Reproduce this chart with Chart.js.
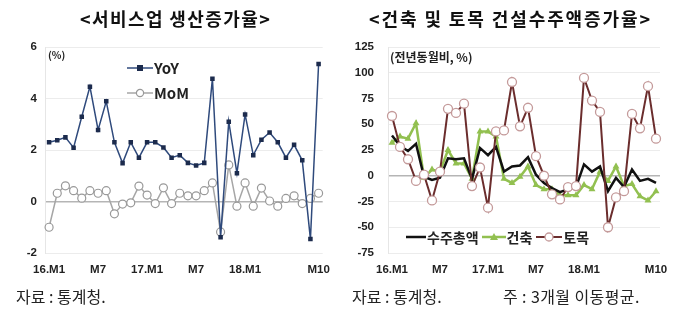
<!DOCTYPE html>
<html>
<head>
<meta charset="utf-8">
<script src="https://cdn.jsdelivr.net/npm/chart.js@4.4.1/dist/chart.umd.min.js"></script>
<style>
body{margin:0;width:680px;height:324px;background:#fff;position:relative;overflow:hidden;font-family:"Noto Sans CJK KR","Noto Sans",sans-serif;color:#222}
.cv{position:absolute;top:0;width:340px;height:324px}
.t{position:absolute;white-space:nowrap}
.title{top:5px;font-size:18px;font-weight:700;color:#111}
.foot{top:284px;font-size:16px;color:#222}
.lg{font-weight:700;color:#222;display:flex;align-items:center}
.lg svg{margin-right:1px}
</style>
</head>
<body>
<div class="cv" style="left:0"><canvas id="c1" width="340" height="324"></canvas></div>
<div class="cv" style="left:340px"><canvas id="c2" width="340" height="324"></canvas></div>

<div class="t title" style="left:80px;letter-spacing:1.4px">&lt;서비스업 생산증가율&gt;</div>
<div class="t title" style="left:369px;letter-spacing:1.9px">&lt;건축 및 토목 건설수주액증가율&gt;</div>

<div class="t lg" style="left:48px;top:47px;font-size:10px">(%)</div>
<div class="t lg" style="left:127px;top:57px;font-size:15px">
  <svg width="26" height="10"><line x1="0" y1="5" x2="26" y2="5" stroke="#2f4a7c" stroke-width="1.5"/><rect x="10" y="2" width="6" height="6" fill="#1c2b4d"/></svg>YoY</div>
<div class="t lg" style="left:127px;top:82px;font-size:15px">
  <svg width="26" height="10"><line x1="0" y1="5" x2="26" y2="5" stroke="#a6a6a6" stroke-width="1.5"/><circle cx="13" cy="5" r="3.6" fill="#fff" stroke="#999" stroke-width="1.2"/></svg>MoM</div>

<div class="t lg" style="left:390px;top:48px;font-size:12px">(전년동월비, %)</div>
<div class="t lg" style="left:406px;top:227px;font-size:14px">
  <svg width="20" height="10"><line x1="0" y1="5" x2="20" y2="5" stroke="#111" stroke-width="2.5"/></svg>수주총액
  <svg width="24" height="10" style="margin-left:3px"><line x1="0" y1="5" x2="24" y2="5" stroke="#92c050" stroke-width="2.5"/><polygon points="12,1 16,8 8,8" fill="#92c050"/></svg>건축
  <svg width="26" height="12" style="margin-left:4px"><line x1="0" y1="6" x2="26" y2="6" stroke="#6b2d2d" stroke-width="2"/><circle cx="13" cy="6" r="4" fill="#fff" stroke="#c49a9a" stroke-width="1.3"/></svg>토목</div>

<div class="t foot" style="left:16px">자료 : 통계청.</div>
<div class="t foot" style="left:352px">자료 : 통계청.</div>
<div class="t foot" style="left:503px;letter-spacing:0.4px">주 : 3개월 이동평균.</div>

<script>
const months = ['16.M1','16.M2','16.M3','16.M4','16.M5','16.M6','16.M7','16.M8','16.M9','16.M10','16.M11','16.M12',
  '17.M1','17.M2','17.M3','17.M4','17.M5','17.M6','17.M7','17.M8','17.M9','17.M10','17.M11','17.M12',
  '18.M1','18.M2','18.M3','18.M4','18.M5','18.M6','18.M7','18.M8','18.M9','18.M10'];
const tickIdx = [0, 6, 12, 18, 24, 33];
const tickText = ['16.M1', 'M7', '17.M1', 'M7', '18.M1', 'M10'];

// 서비스업 생산증가율 (%)
const yoy = [2.3,2.38,2.49,2.09,3.29,4.46,2.78,3.89,2.3,1.49,2.3,1.7,2.3,2.3,2.1,1.7,1.8,1.5,1.4,1.5,4.77,-1.39,3.1,1.1,3.38,1.8,2.4,2.68,2.3,1.7,2.2,1.6,-1.46,5.34];
const mom = [-1.0,0.32,0.61,0.42,0.13,0.42,0.32,0.42,-0.48,-0.1,-0.05,0.6,0.25,-0.08,0.53,-0.08,0.32,0.22,0.22,0.42,0.72,-1.18,1.42,-0.18,0.72,-0.18,0.52,0.02,-0.18,0.12,0.22,-0.08,0.12,0.32];

// 건설수주액증가율 (전년동월비, %, 3개월 이동평균)
const total = [39,29,24,31,-1,-4,-2,17,16,17,-3,27,20,28,4,9,10,18,1,-7,-12,-16,-13,-11,11,4,9,-15,-2,-11,6,-5,-3,-7];
const building = [32,38,36,51,-2,6,4,25,12,12,-3,43,43,38,-3,-7,-1,9,-9,-13,-13,-19,-19,-19,-9,-13,4,-5,9,-10,-8,-20,-24,-15];
const civil = [58,28,16,-5,1,-24,4,65,61,70,-10,8,-31,43,44,91,48,66,19,0,-18,-23,-11,-10,95,73,62,-50,-21,-15,60,46,87,36];

const tickFont = {family: 'Liberation Sans, Arial', size: 11.5, weight: 'bold'};

function xAxis() {
  return {
    offset: true,
    grid: {display: false, drawTicks: false},
    border: {display: false},
    afterFit: s => { s.height = 30; },
    ticks: {
      autoSkip: false, maxRotation: 0, padding: 10, color: '#222', font: tickFont,
      callback: (v, i) => { const k = tickIdx.indexOf(i); return k < 0 ? '' : tickText[k]; }
    }
  };
}

function yAxis(min, max, step, w, pad) {
  return {
    min: min, max: max,
    afterFit: s => { s.width = w; },
    border: {display: true, color: '#e6e6e6'},
    grid: {drawTicks: false, color: c => c.tick.value === 0 ? '#b5b5b5' : '#ececec', lineWidth: c => c.tick.value === 0 ? 1.5 : 1},
    ticks: {stepSize: step, padding: pad, color: '#222', font: tickFont}
  };
}

const common = {
  responsive: false,
  animation: false,
  plugins: {legend: {display: false}, tooltip: {enabled: false}},
  elements: {line: {tension: 0}}
};

new Chart(document.getElementById('c1'), {
  type: 'line',
  data: {
    labels: months,
    datasets: [
      {label: 'YoY', data: yoy, borderColor: '#2f4a7c', borderWidth: 1.5, pointStyle: 'rect', pointRadius: 3.2,
       pointBackgroundColor: '#1c2b4d', pointBorderColor: '#1c2b4d', pointBorderWidth: 0, order: 1},
      {label: 'MoM', data: mom, borderColor: '#a6a6a6', borderWidth: 1.5, pointStyle: 'circle', pointRadius: 4,
       pointBackgroundColor: '#fff', pointBorderColor: '#999', pointBorderWidth: 1.2, order: 2}
    ]
  },
  options: Object.assign({}, common, {
    layout: {padding: {top: 47, right: 15, bottom: 41, left: 0}},
    scales: {x: xAxis(), y: yAxis(-2, 6, 2, 45, 8)}
  })
});

new Chart(document.getElementById('c2'), {
  type: 'line',
  data: {
    labels: months,
    datasets: [
      {label: '수주총액', data: total, borderColor: '#111', borderWidth: 2.5, pointRadius: 0, order: 1},
      {label: '건축', data: building, borderColor: '#92c050', borderWidth: 2.5, pointStyle: 'triangle', pointRadius: 4,
       pointBackgroundColor: '#92c050', pointBorderColor: '#92c050', pointBorderWidth: 0, order: 2},
      {label: '토목', data: civil, borderColor: '#6b2d2d', borderWidth: 2, pointStyle: 'circle', pointRadius: 4.5,
       pointBackgroundColor: '#fff', pointBorderColor: '#c49a9a', pointBorderWidth: 1.3, order: 0}
    ]
  },
  options: Object.assign({}, common, {
    layout: {padding: {top: 47, right: 20, bottom: 41, left: 0}},
    scales: {x: xAxis(), y: yAxis(-75, 125, 25, 48, 14)}
  })
});
</script>
</body>
</html>
